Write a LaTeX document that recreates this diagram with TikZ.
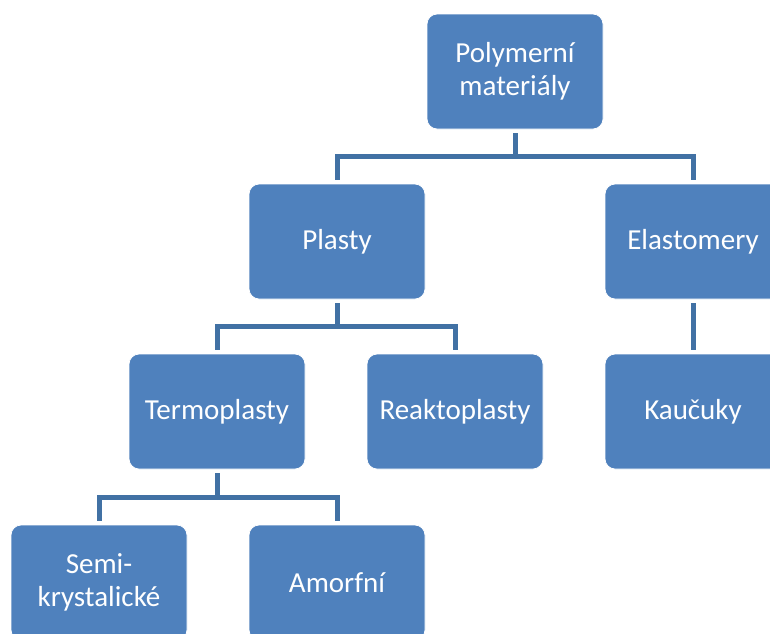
\documentclass[tikz,border=0pt]{standalone}
\usepackage{fontspec}
\setmainfont{Carlito}
\definecolor{boxfill}{RGB}{79,129,189}
\definecolor{conncol}{RGB}{65,113,164}
\tikzset{
  orgbox/.style={rectangle, rounded corners=10pt, fill=boxfill, draw=white, line width=0.8pt,
    minimum width=176pt, minimum height=115pt, text=white, align=center,
    font=\fontsize{29}{33}\selectfont, inner sep=0pt},
  conn/.style={draw=conncol, line width=5pt, shorten <=4pt, shorten >=4pt}
}
\begin{document}
\begin{tikzpicture}[x=1pt,y=-1pt]
\useasboundingbox (0,0) rectangle (770,633);
\clip (0,0) rectangle (770,633);
\node[orgbox] (pm) at (515,71.5) {Polymerní\\materiály};
\node[orgbox] (pl) at (337,241.5) {Plasty};
\node[orgbox] (el) at (693,241.5) {Elastomery};
\node[orgbox] (tp) at (217,411.5) {Termoplasty};
\node[orgbox] (rp) at (455,411.5) {Reaktoplasty};
\node[orgbox] (ka) at (693,411.5) {Kaučuky};
\node[orgbox] (sk) at (99,582.5) {Semi-\\krystalické};
\node[orgbox] (am) at (337,582.5) {Amorfní};
\coordinate (h1) at (515,156.5);
\coordinate (h2) at (337,326.5);
\coordinate (h3) at (217,497.5);
\draw[conn, shorten >=0pt] (pm.south) -- (h1);
\draw[conn, shorten <=0pt] (h1) -| (pl.north);
\draw[conn, shorten <=0pt] (h1) -| (el.north);
\draw[conn, shorten >=0pt] (pl.south) -- (h2);
\draw[conn, shorten <=0pt] (h2) -| (tp.north);
\draw[conn, shorten <=0pt] (h2) -| (rp.north);
\draw[conn] (el.south) -- (ka.north);
\draw[conn, shorten >=0pt] (tp.south) -- (h3);
\draw[conn, shorten <=0pt] (h3) -| (sk.north);
\draw[conn, shorten <=0pt] (h3) -| (am.north);
\end{tikzpicture}
\end{document}
